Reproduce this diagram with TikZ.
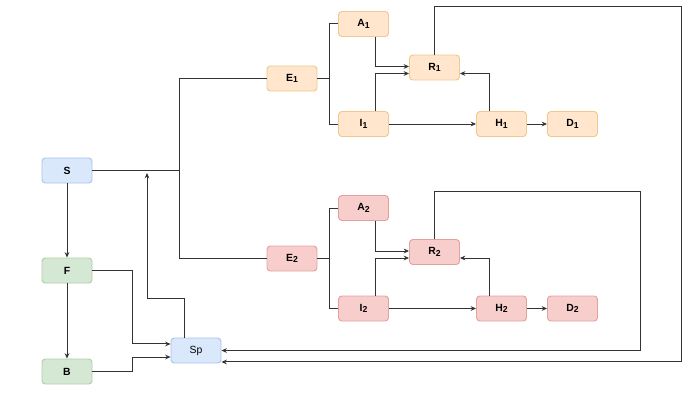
\documentclass[tikz,border=0pt]{standalone}
\usepackage{fontspec}
\setmainfont{Liberation Sans}
\usetikzlibrary{arrows.meta}
\definecolor{blueFill}{HTML}{DAE8FC}
\definecolor{blueLine}{HTML}{A9C4EB}
\definecolor{greenFill}{HTML}{D5E8D4}
\definecolor{greenLine}{HTML}{AFD0A3}
\definecolor{orangeFill}{HTML}{FFE6CC}
\definecolor{orangeLine}{HTML}{EFC98E}
\definecolor{redFill}{HTML}{F8CECC}
\definecolor{redLine}{HTML}{E3A19E}
\definecolor{wire}{HTML}{333333}
\newcommand{\lab}[2]{\bfseries #1{\fontsize{6.5}{7}\selectfont\raisebox{-0.35ex}{#2}}}
\begin{document}
\begin{tikzpicture}[x=0.75pt,y=-0.75pt,every node/.style={rounded corners=2.5pt,line width=0.7pt,minimum width=37.5pt,minimum height=18.75pt,inner sep=0pt,font=\fontsize{7.8}{9}\selectfont}]
        \tikzset{edge/.style = {-{Stealth[length=4pt,width=3.5pt]},draw=wire,line width=0.75pt},
                 wire/.style = {draw=wire,line width=0.75pt},
                 blueBox/.style = {draw=blueLine,fill=blueFill},
                 greenBox/.style = {draw=greenLine,fill=greenFill},
                 orangeBox/.style = {draw=orangeLine,fill=orangeFill},
                 redBox/.style = {draw=redLine,fill=redFill}}
        \useasboundingbox (0,0) rectangle (698,403);
        \node[blueBox] (S) at (67,170.5) {\bfseries S};
        \node[greenBox] (F) at (67,270.5) {\bfseries F};
        \node[greenBox] (B) at (67,371.5) {\bfseries B};
        \node[blueBox] (Sp) at (196,350.5) {Sp};

        \node[orangeBox] (E1) at (292,78.5) {\lab{E}{1}};
        \node[orangeBox] (A1) at (363.5,24) {\lab{A}{1}};
        \node[orangeBox] (I1) at (363.5,124) {\lab{I}{1}};
        \node[orangeBox] (R1) at (434.5,67.5) {\lab{R}{1}};
        \node[orangeBox] (H1) at (501.5,124) {\lab{H}{1}};
        \node[orangeBox] (D1) at (572.5,124) {\lab{D}{1}};

        \node[redBox] (E2) at (292,258.5) {\lab{E}{2}};
        \node[redBox] (A2) at (363.5,208) {\lab{A}{2}};
        \node[redBox] (I2) at (363.5,308.5) {\lab{I}{2}};
        \node[redBox] (R2) at (434.5,252) {\lab{R}{2}};
        \node[redBox] (H2) at (501.5,308.5) {\lab{H}{2}};
        \node[redBox] (D2) at (572.5,308.5) {\lab{D}{2}};

        \coordinate (jS) at (179,170.5);
        \coordinate (jE1) at (329,78.5);
        \coordinate (jE2) at (329,258.5);
        \coordinate (SpUp) at (147,173);
        \coordinate (loop1) at (681,7);
        \coordinate (loop2) at (640,191);

        \draw[edge] (S) to (F);
        \draw[edge] (F) to (B);
        \draw[wire] (S) -- (jS);
        \draw[wire] (E1.west) -| (jS);
        \draw[wire] (E2.west) -| (jS);
        \draw[edge] ([xshift=-9pt]Sp.north) -- ++(0,-39) -| (SpUp);
        \draw[edge] (F.east) -- ++(40,0) |- ([yshift=4.9pt]Sp.west);
        \draw[edge] (B.east) -- ++(40,0) |- ([yshift=-4.9pt]Sp.west);

        \draw[wire] (E1) -- (jE1);
        \draw[wire] (A1.west) -| (jE1);
        \draw[wire] (I1.west) -| (jE1);
        \draw[edge] ([xshift=9pt]A1.south) |- ([yshift=0.75pt]R1.west);
        \draw[edge] ([xshift=9pt]I1.north) |- ([yshift=-4.5pt]R1.west);
        \draw[edge] ([xshift=-9pt]H1.north) |- ([yshift=-4.5pt]R1.east);
        \draw[edge] (I1) to (H1);
        \draw[edge] (H1) to (D1);
        \draw[edge] (R1.north) |- (loop1) |- ([yshift=-8.6pt]Sp.east);

        \draw[wire] (E2) -- (jE2);
        \draw[wire] (A2.west) -| (jE2);
        \draw[wire] (I2.west) -| (jE2);
        \draw[edge] ([xshift=9pt]A2.south) |- ([yshift=0.75pt]R2.west);
        \draw[edge] ([xshift=9pt]I2.north) |- ([yshift=-4.5pt]R2.west);
        \draw[edge] ([xshift=-9pt]H2.north) |- ([yshift=-4.5pt]R2.east);
        \draw[edge] (I2) to (H2);
        \draw[edge] (H2) to (D2);
        \draw[edge] (R2.north) |- (loop2) |- (Sp.east);
\end{tikzpicture}
\end{document}
